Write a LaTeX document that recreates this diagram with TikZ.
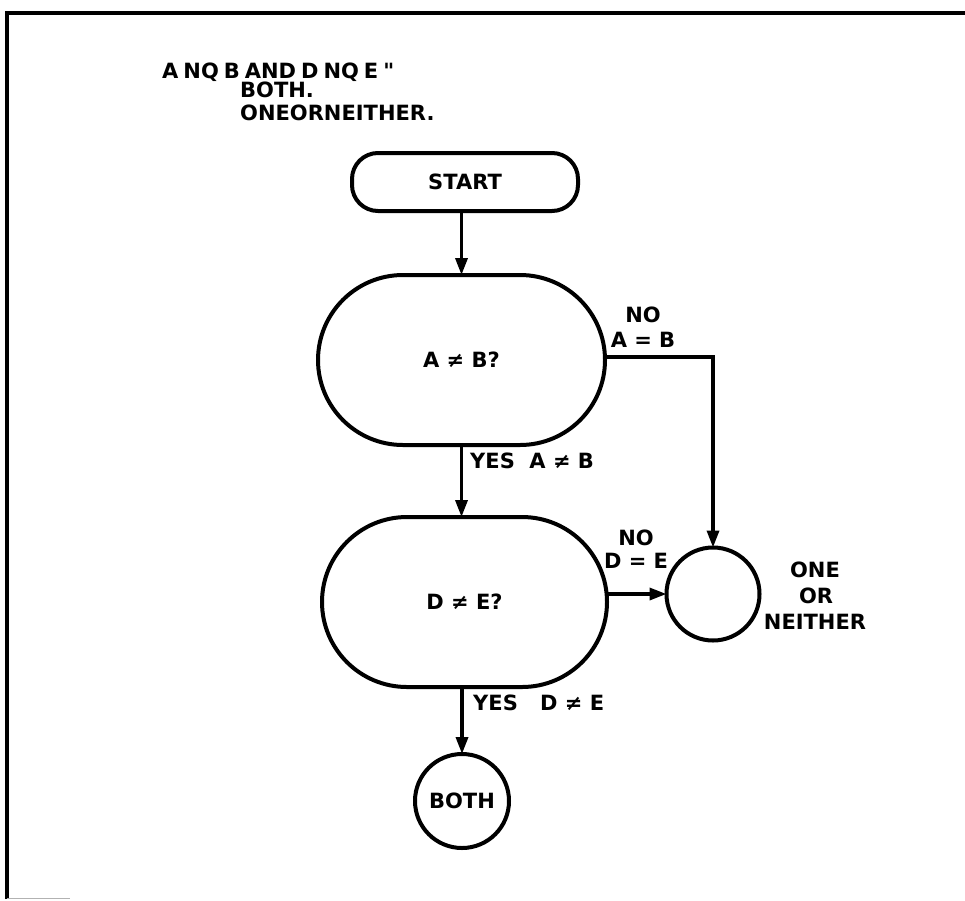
\documentclass[tikz,border=0pt]{standalone}
\usepackage{fontspec}
\setmainfont{DejaVu Sans}
\newfontfamily\qfont{DejaVu Sans}
\usetikzlibrary{shapes.misc,arrows.meta}
\begin{document}
\begin{tikzpicture}[x=1pt,y=-1pt,
  every node/.style={font=\fontsize{21}{25}\selectfont\bfseries},
  box/.style={draw,line width=4pt,inner sep=0pt,outer sep=0pt},
  conn/.style={line width=3.4pt,-{Triangle[length=17pt,width=12pt]}},
  lbl/.style={anchor=base,inner sep=0pt},
  lblw/.style={anchor=base west,inner sep=0pt},
]
\useasboundingbox (0,0) rectangle (965,900);
\draw[line width=4pt] (7,899) -- (7,13) -- (965,13);
\draw[line width=1pt,gray!60] (7,898) -- (70,898);

% header text
\node[lblw] (h1) at (162,78) {\spaceskip=5pt A NQ B AND D NQ E {\qfont\bfseries "}};
\node[lblw] (h2) at (240,97) {BOTH.};
\node[lblw] (h3) at (240,120) {ONEORNEITHER.};

% shapes
\node[box,rectangle,rounded corners=26pt,minimum width=226pt,minimum height=58pt] (start) at (465,182) {START};
\node[box,rounded rectangle,minimum width=287pt,minimum height=170pt] (d1) at (461.5,360) {A ≠ B?};
\node[box,rounded rectangle,minimum width=285pt,minimum height=170pt] (d2) at (464.5,602) {D ≠ E?};
\node[box,circle,minimum size=93pt] (one) at (713,594) {};
\node[box,circle,minimum size=94pt] (both) at (462,801) {BOTH};

% connectors
\draw[conn] (start.south -| d1.north) -- (d1.north);
\draw[conn] (d1.south) -- (d1.south |- d2.north);
\draw[conn] ([yshift=3pt]d1.east) -| (one.north);
\draw[conn] (d2.east |- one.west) -- (one.west);
\draw[conn] (d2.south -| both.north) -- (both.north);

% labels
\node[lbl] (no1) at (643,322) {NO};
\node[lbl] (ab) at (643,347) {A = B};
\node[lblw] (yes1) at (470,468) {YES\ \ A ≠ B};
\node[lbl] (no2) at (636,545) {NO};
\node[lbl] (de) at (636,568) {D = E};
\node[lblw] (yes2) at (473,710) {YES};
\node[lblw] (dne) at (540,710) {D ≠ E};
\node[lbl] (t1) at (815,577) {ONE};
\node[lbl] (t2) at (816,603) {OR};
\node[lbl] (t3) at (815,629) {NEITHER};
\end{tikzpicture}
\end{document}
